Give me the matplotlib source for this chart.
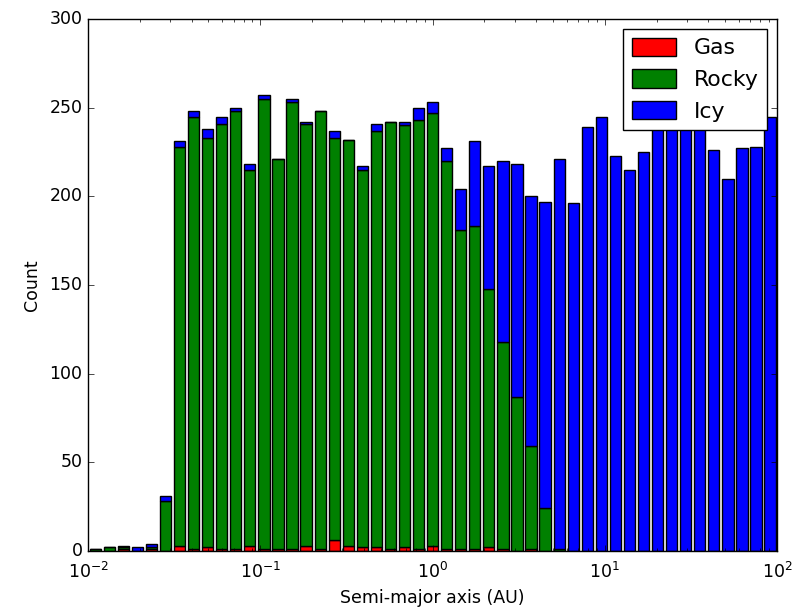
import numpy as np
import matplotlib
matplotlib.use('Agg')
import matplotlib.pyplot as plt

plt.style.use('classic')
plt.rcParams['font.family'] = ['DejaVu Sans']
plt.rcParams['font.size'] = 12.5
plt.rcParams['xtick.major.pad'] = 8
plt.rcParams['xtick.minor.pad'] = 8

# 49 log-spaced bins from 0.01 to 100 AU
edges = np.logspace(-2, 2, 50)
centers = np.sqrt(edges[:-1] * edges[1:])

# counts per bin
gas = [0, 0, 1, 0, 1, 0, 3, 1, 2, 1,
       1, 3, 1, 1, 1, 3, 1, 6, 3, 2,
       2, 1, 2, 1, 3, 1, 1, 1, 2, 1,
       0, 1, 0, 0, 0, 0, 0, 0, 0, 0,
       0, 0, 0, 0, 0, 0, 0, 0, 0]
rocky = [1, 2, 1, 0, 1, 28, 225, 244, 231, 240,
         247, 212, 254, 220, 252, 238, 247, 227, 229, 213,
         235, 241, 238, 242, 244, 219, 180, 182, 146, 117,
         87, 58, 24, 1, 0, 0, 0, 0, 0, 0,
         0, 0, 0, 0, 0, 0, 0, 0, 0]
icy = [0, 0, 1, 2, 2, 3, 3, 3, 5, 4,
       2, 3, 2, 0, 2, 1, 0, 4, 0, 2,
       4, 0, 2, 7, 6, 7, 23, 48, 69, 102,
       131, 141, 173, 220, 196, 239, 245, 223, 215, 225,
       246, 252, 243, 249, 226, 210, 227, 228, 245]

fig = plt.figure(figsize=(8.08, 6.12), dpi=100)
ax = fig.add_axes([88 / 808, 1 - 551 / 612, (777 - 88) / 808, (551 - 19) / 612])

ax.hist([centers, centers, centers], bins=edges, weights=[gas, rocky, icy],
        stacked=True, color=['r', 'g', 'b'], label=['Gas', 'Rocky', 'Icy'])

ax.set_xscale('log')
ax.set_xlim(1e-2, 1e2)
ax.set_ylim(0, 300)
ax.set_xlabel('Semi-major axis (AU)')
ax.set_ylabel('Count', labelpad=6)
ax.legend(loc='upper right', fontsize=15.8, handlelength=2.0, handleheight=0.9,
          borderaxespad=0.45)

fig.savefig('out.png', dpi=100)
